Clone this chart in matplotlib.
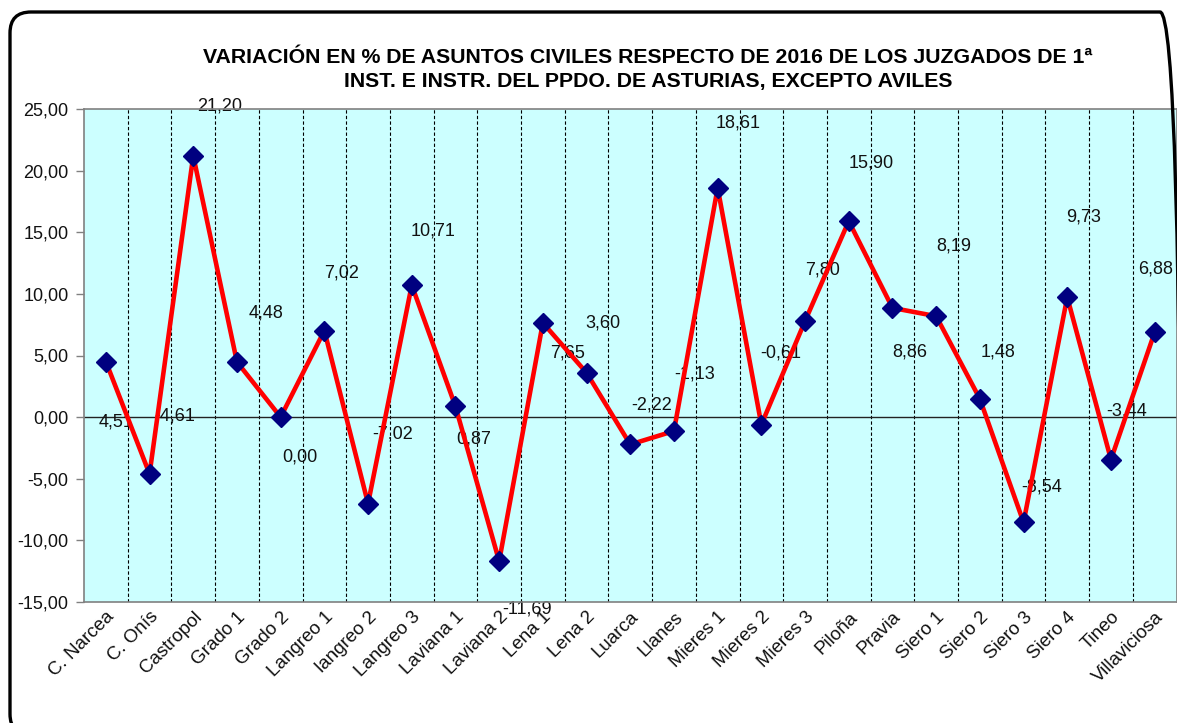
import matplotlib
matplotlib.use("Agg")
import matplotlib.pyplot as plt
import matplotlib.transforms as mtransforms
from matplotlib.patches import FancyBboxPatch
import numpy as np

plt.rcParams['font.family'] = ['Liberation Sans', 'DejaVu Sans']

categories = ['C. Narcea', 'C. Onís', 'Castropol', 'Grado 1', 'Grado 2', 'Langreo 1',
              'langreo 2', 'Langreo 3', 'Laviana 1', 'Laviana 2', 'Lena 1', 'Lena 2',
              'Luarca', 'Llanes', 'Mieres 1', 'Mieres 2', 'Mieres 3', 'Piloña', 'Pravia',
              'Siero 1', 'Siero 2', 'Siero 3', 'Siero 4', 'Tineo', 'Villaviciosa']
values = [4.51, -4.61, 21.20, 4.48, 0.00, 7.02, -7.02, 10.71, 0.87, -11.69, 7.65, 3.60,
          -2.22, -1.13, 18.61, -0.61, 7.80, 15.90, 8.86, 8.19, 1.48, -8.54, 9.73, -3.44, 6.88]
yticks = [-15, -10, -5, 0, 5, 10, 15, 20, 25]
title = ('VARIACIÓN EN % DE ASUNTOS CIVILES RESPECTO DE 2016 DE LOS JUZGADOS DE 1ª\n'
         'INST. E INSTR. DEL PPDO. DE ASTURIAS, EXCEPTO AVILES')

# label offsets (category units, value units) as placed in the original
label_dx = [0.23, 0.58, 0.61, 0.66, 0.44, 0.40, 0.57, 0.49, 0.42, 0.63, 0.57, 0.38, 0.50,
            0.48, 0.47, 0.45, 0.39, 0.52, 0.40, 0.41, 0.42, 0.42, 0.38, 0.36, 0.02]
label_dy = [-4.87, 4.71, 4.05, 3.95, -3.2, 4.71, 5.67, 4.40, -2.63, -3.86, -2.41, 4.07, 3.22,
            4.64, 5.23, 5.82, 4.15, 4.70, -3.56, 5.73, 3.82, 2.91, 6.49, 3.95, 5.15]

W, H = 1177, 723
DPI = 100
fig = plt.figure(figsize=(W / DPI, H / DPI), dpi=DPI)
fig.patch.set_facecolor('white')

# rounded chart frame (pixel coordinates, origin bottom-left); right/bottom edges run off the image
frame = FancyBboxPatch((10, -12), 1181 - 10, (H - 12) + 12,
                       boxstyle='round,pad=0,rounding_size=21',
                       transform=mtransforms.IdentityTransform(),
                       facecolor='none', edgecolor='black', linewidth=2.4)
fig.patches.append(frame)

ax = fig.add_axes([84 / W, 1 - 602 / H, (1176.5 - 84) / W, (602 - 109) / H])
ax.set_facecolor('#ccffff')

x = np.arange(len(categories))
ax.set_xlim(-0.5, len(categories) - 0.5)
ax.set_ylim(-15, 25)

# vertical dashed separators
for b in np.arange(0.5, len(categories) - 0.5, 1):
    ax.axvline(b, color='black', linewidth=0.8, linestyle=(0, (3, 2)), zorder=1)
ax.axhline(0, color='#222222', linewidth=1.0, zorder=1.5)

# data labels (under the line)
for i, v in enumerate(values):
    txt = f'{v:.2f}'.replace('.', ',')
    ax.text(x[i] + label_dx[i], v + label_dy[i], txt, ha='center', va='center',
            fontsize=13, color='#111111', zorder=2, clip_on=False)

ax.plot(x, values, color='#ff0000', linewidth=3.3, zorder=3,
        marker='D', markersize=10.5, markerfacecolor='#000080', markeredgecolor='#000080',
        solid_joinstyle='miter')

for s in ax.spines.values():
    s.set_color('#808080')
    s.set_linewidth(1.2)

ax.set_yticks(yticks)
ax.set_yticklabels([f'{t:.2f}'.replace('.', ',') for t in yticks], fontsize=13, color='#111111')
ax.tick_params(axis='y', direction='out', length=6, width=1, color='#808080', pad=5)

ax.set_xticks(x)
ax.set_xticklabels(categories, fontsize=13.5, color='#111111', rotation=45,
                   ha='right', va='center', rotation_mode='anchor')
ax.tick_params(axis='x', length=0, pad=9)
offset = mtransforms.ScaledTranslation(6 / DPI, 0, fig.dpi_scale_trans)
for lbl in ax.get_xticklabels():
    lbl.set_transform(lbl.get_transform() + offset)

fig.text(648 / W, 1 - 69.5 / H, title, ha='center', va='center', fontsize=15.3,
         fontweight='bold', linespacing=1.38, color='black')

fig.savefig('out.png', dpi=DPI, facecolor='white')
